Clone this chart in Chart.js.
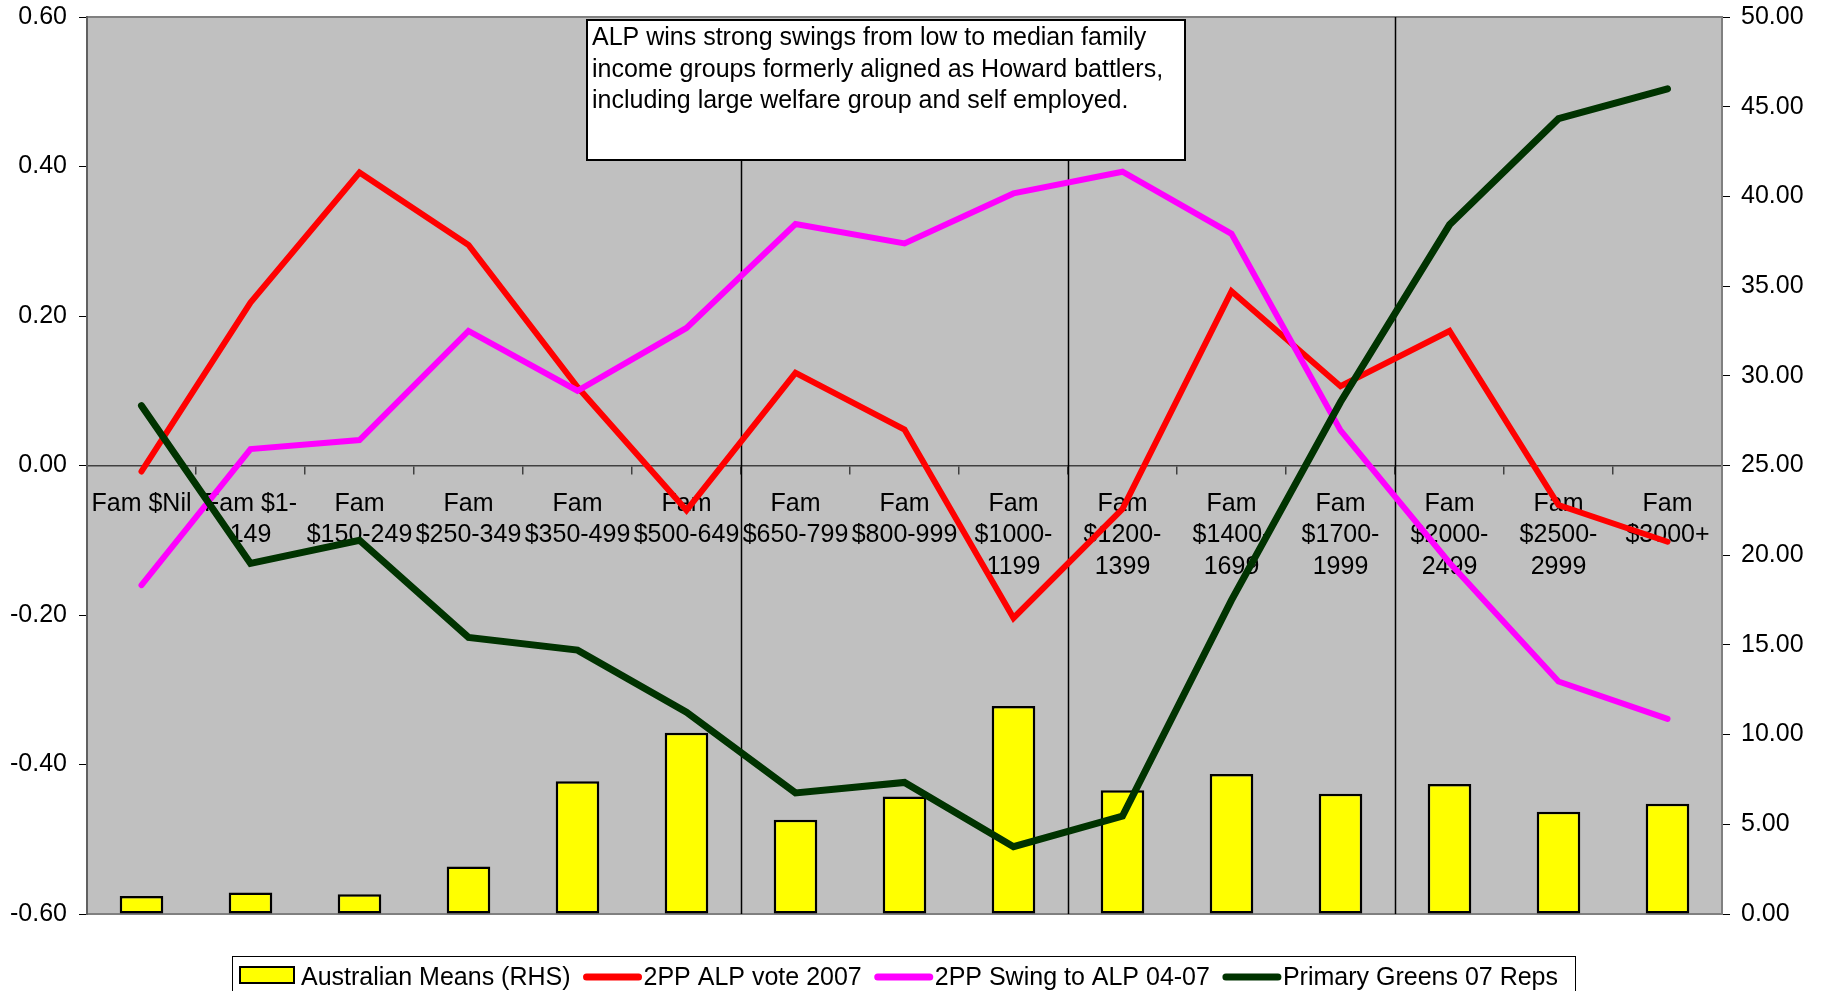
<!DOCTYPE html>
<html lang="en">
<head>
  <meta charset="UTF-8">
  <title>Family income groups: ALP vote, swing and Greens</title>
  <script src="https://cdn.jsdelivr.net/npm/chart.js"></script>
  <style>
    body {
      margin: 0;
      background: #fff;
    }
  </style>
</head>
<body>
  <canvas id="incomeChart" width="1822" height="991"></canvas>

  <script>
    // categories
    const incomeGroups = [
      ['Fam $Nil'], ['Fam $1-', '149'], ['Fam', '$150-249'], ['Fam', '$250-349'],
      ['Fam', '$350-499'], ['Fam', '$500-649'], ['Fam', '$650-799'], ['Fam', '$800-999'],
      ['Fam', '$1000-', '1199'], ['Fam', '$1200-', '1399'], ['Fam', '$1400-', '1699'],
      ['Fam', '$1700-', '1999'], ['Fam', '$2000-', '2499'], ['Fam', '$2500-', '2999'],
      ['Fam', '$3000+']
    ];

    // series
    const australianMeans = [1.0, 1.2, 1.1, 2.65, 7.4, 10.1, 5.25, 6.55, 11.6, 6.9, 7.8, 6.7, 7.25, 5.7, 6.15];
    const alpVote2007 = [-0.008, 0.218, 0.392, 0.295, 0.105, -0.06, 0.124, 0.048, -0.204, -0.058, 0.233, 0.106, 0.18, -0.053, -0.102];
    const swingToAlp = [-0.16, 0.022, 0.034, 0.18, 0.10, 0.184, 0.323, 0.297, 0.364, 0.393, 0.31, 0.047, -0.13, -0.289, -0.339];
    const greens07 = [0.08, -0.131, -0.10, -0.23, -0.247, -0.33, -0.438, -0.424, -0.51, -0.469, -0.18, 0.085, 0.322, 0.464, 0.504];

    const seriesNames = ['Australian Means (RHS)', '2PP ALP vote 2007', '2PP Swing to ALP 04-07', 'Primary Greens 07 Reps'];
    const noteLines = [
      'ALP wins strong swings from low to median family',
      'income groups formerly aligned as Howard battlers,',
      'including large welfare group and self employed.'
    ];

    const FONT = "'Liberation Sans', Arial, sans-serif";
    Chart.defaults.font.family = FONT;
    Chart.defaults.font.size = 25;
    Chart.defaults.color = '#000';

    // fixed axis width, and no extra room for the end labels
    const fixAxis = width => s => {
      s.width = width;
      s.paddingTop = 0;
      s.paddingBottom = 0;
    };

    // grey plot area + frame
    const plotArea = {
      id: 'plotArea',
      beforeDraw(chart) {
        const { ctx, chartArea: a } = chart;
        ctx.save();
        ctx.fillStyle = '#C0C0C0';
        ctx.fillRect(a.left, a.top, a.right - a.left, a.bottom - a.top);
        ctx.strokeStyle = '#808080';
        ctx.lineWidth = 2;
        ctx.strokeRect(a.left, a.top, a.right - a.left, a.bottom - a.top);
        ctx.restore();
      },
      beforeDatasetsDraw(chart) {
        // divider lines between income bands
        const { ctx, chartArea: a, scales } = chart;
        const dividers = [[5.5, 160], [8.5, 160], [11.5, a.top]];
        ctx.save();
        ctx.strokeStyle = '#000';
        ctx.lineWidth = 1.5;
        dividers.forEach(([pos, top]) => {
          const x = Math.round(scales.x.getPixelForValue(pos)) + 0.5;
          ctx.beginPath();
          ctx.moveTo(x, top);
          ctx.lineTo(x, a.bottom);
          ctx.stroke();
        });
        ctx.restore();
      },
      afterDraw(chart) {
        const ctx = chart.ctx;
        ctx.save();
        // note box
        ctx.fillStyle = '#fff';
        ctx.fillRect(587, 20, 598, 140);
        ctx.strokeStyle = '#000';
        ctx.lineWidth = 2;
        ctx.strokeRect(587, 20, 598, 140);
        ctx.fillStyle = '#000';
        ctx.font = '25px ' + FONT;
        ctx.textBaseline = 'alphabetic';
        noteLines.forEach((t, i) => ctx.fillText(t, 592, 45 + i * 31.5));

        // legend
        ctx.lineWidth = 1;
        ctx.strokeStyle = '#000';
        ctx.strokeRect(232.5, 956.5, 1343, 60);
        ctx.textBaseline = 'middle';
        let x = 240;
        chart.data.datasets.forEach((ds, i) => {
          if (i === 0) {
            ctx.fillStyle = ds.backgroundColor;
            ctx.fillRect(x, 967, 54, 16);
            ctx.lineWidth = 2;
            ctx.strokeStyle = '#000';
            ctx.strokeRect(x, 967, 54, 16);
            x += 61;
          } else {
            x += 13;
            ctx.beginPath();
            ctx.lineWidth = 7;
            ctx.lineCap = 'round';
            ctx.strokeStyle = ds.borderColor;
            ctx.moveTo(x + 3, 977);
            ctx.lineTo(x + 55, 977);
            ctx.stroke();
            x += 60;
          }
          ctx.fillStyle = '#000';
          ctx.fillText(ds.label, x, 978);
          x += ctx.measureText(ds.label).width;
        });
        ctx.restore();
      }
    };

    new Chart(document.getElementById('incomeChart'), {
      type: 'bar',
      data: {
        labels: incomeGroups,
        datasets: [
          {
            label: seriesNames[0],
            data: australianMeans,
            yAxisID: 'y1',
            backgroundColor: '#FFFF00',
            borderColor: '#000',
            borderWidth: 2.5,
            borderSkipped: false,
            barPercentage: 0.4,
            categoryPercentage: 1,
            order: 4
          },
          {
            type: 'line',
            label: seriesNames[1],
            data: alpVote2007,
            yAxisID: 'y',
            borderColor: '#FF0000',
            borderWidth: 6,
            borderCapStyle: 'round',
            pointRadius: 0,
            order: 3
          },
          {
            type: 'line',
            label: seriesNames[2],
            data: swingToAlp,
            yAxisID: 'y',
            borderColor: '#FF00FF',
            borderWidth: 6,
            borderCapStyle: 'round',
            pointRadius: 0,
            order: 2
          },
          {
            type: 'line',
            label: seriesNames[3],
            data: greens07,
            yAxisID: 'y',
            borderColor: '#003300',
            borderWidth: 7,
            borderCapStyle: 'round',
            pointRadius: 0,
            order: 1
          }
        ]
      },
      options: {
        responsive: false,
        animation: false,
        layout: { padding: { top: 17, bottom: 77, left: 0, right: 0 } },
        plugins: {
          legend: { display: false },
          tooltip: { enabled: false }
        },
        scales: {
          x: {
            position: { y: 0 },
            offset: true,
            grid: {
              offset: true,
              drawOnChartArea: false,
              tickLength: 8,
              color: '#404040',
              lineWidth: 1.5
            },
            border: { color: '#404040', width: 1.5 },
            ticks: {
              autoSkip: false,
              maxRotation: 0,
              minRotation: 0,
              padding: 15,
              font: { size: 25, lineHeight: 1.25 }
            }
          },
          y: {
            position: 'left',
            min: -0.6,
            max: 0.6,
            afterFit: fixAxis(87),
            grid: { drawOnChartArea: false, tickLength: 8, color: '#000' },
            border: { color: '#606060', width: 2 },
            ticks: {
              stepSize: 0.2,
              padding: 12,
              callback: v => v.toFixed(2)
            }
          },
          y1: {
            position: 'right',
            min: 0,
            max: 50,
            afterFit: fixAxis(100),
            grid: { drawOnChartArea: false, tickLength: 8, color: '#000' },
            border: { color: '#808080', width: 2 },
            ticks: {
              stepSize: 5,
              padding: 11,
              callback: v => v.toFixed(2)
            }
          }
        }
      },
      plugins: [plotArea]
    });
  </script>
</body>
</html>
